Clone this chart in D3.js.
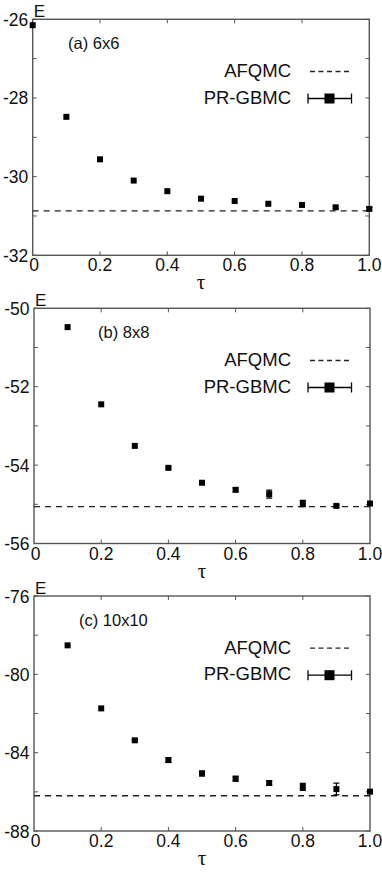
<!DOCTYPE html>
<html>
<head>
<meta charset="utf-8">
<script src="https://cdn.jsdelivr.net/npm/d3@7"></script>
<style>
  body { margin: 0; background: #fff; }
  text { font-family: "Liberation Sans", Arial, sans-serif; fill: #111; }
</style>
</head>
<body>
<script>
// data
const tauA = [0, 0.1, 0.2, 0.3, 0.4, 0.5, 0.6, 0.7, 0.8, 0.9, 1.0];
const energyA = [-26.15, -28.48, -29.56, -30.10, -30.37, -30.56, -30.62, -30.69, -30.72, -30.78, -30.82];
const errA = [0, 0, 0, 0, 0, 0, 0, 0, 0.03, 0.03, 0.04];
const afqmcA = -30.87;

const tauB = [0.1, 0.2, 0.3, 0.4, 0.5, 0.6, 0.7, 0.8, 0.9, 1.0];
const energyB = [-50.48, -52.45, -53.51, -54.07, -54.45, -54.63, -54.74, -54.98, -55.04, -54.98];
const errB = [0, 0, 0, 0.03, 0.03, 0.05, 0.1, 0.08, 0.03, 0.03];
const afqmcB = -55.06;

const tauC = [0.1, 0.2, 0.3, 0.4, 0.5, 0.6, 0.7, 0.8, 0.9, 1.0];
const energyC = [-78.52, -81.74, -83.37, -84.38, -85.06, -85.33, -85.55, -85.75, -85.86, -85.99];
const errC = [0, 0, 0.05, 0.12, 0.12, 0.12, 0.12, 0.18, 0.3, 0.05];
const afqmcC = -86.2;

const xTicks = [0, 0.2, 0.4, 0.6, 0.8, 1.0];
const xTickLabels = ['0', '0.2', '0.4', '0.6', '0.8', '1.0'];
const yTickLabelsA = [-26, -28, -30, -32];
const yTickLabelsB = [-50, -52, -54, -56];
const yTickLabelsC = [-76, -80, -84, -88];
const panelLabels = ['(a) 6x6', '(b) 8x8', '(c) 10x10'];
const legendNames = ['AFQMC', 'PR-GBMC'];

const svg = d3.select('body').append('svg')
    .attr('width', 382)
    .attr('height', 872);

const panels = [
    { tau: tauA, e: energyA, err: errA, afqmc: afqmcA, domain: [-32, -26], minorStep: 1, labels: yTickLabelsA,
      box: [32.7, 369.3, 19.3, 255.3], labelX: 68 },
    { tau: tauB, e: energyB, err: errB, afqmc: afqmcB, domain: [-56, -50], minorStep: 1, labels: yTickLabelsB,
      box: [34, 370, 308.3, 543.5], labelX: 98 },
    { tau: tauC, e: energyC, err: errC, afqmc: afqmcC, domain: [-88, -76], minorStep: 2, labels: yTickLabelsC,
      box: [34, 370, 596, 831], labelX: 79 }
];

const frameColor = '#555';
const tickLen = 4;

panels.forEach((p, i) => {
    const [x0, x1, y0, y1] = p.box;
    const x = d3.scaleLinear().domain([0, 1]).range([x0, x1]);
    const y = d3.scaleLinear().domain(p.domain).range([y1, y0]);
    const g = svg.append('g');

    // frame
    g.append('rect')
        .attr('x', x0).attr('y', y0)
        .attr('width', x1 - x0).attr('height', y1 - y0)
        .attr('fill', 'none')
        .attr('stroke', frameColor)
        .attr('stroke-width', 1.4);

    // inward ticks on all four sides
    const yMinor = d3.range(p.domain[0], p.domain[1] + 0.001, p.minorStep);
    g.selectAll('.yt').data(yMinor).enter().append('path')
        .attr('d', d => `M${x0},${y(d)}h${tickLen}M${x1},${y(d)}h${-tickLen}`)
        .attr('stroke', frameColor).attr('stroke-width', 1);
    g.selectAll('.xt').data(xTicks.slice(1, -1)).enter().append('path')
        .attr('d', d => `M${x(d)},${y1}v${-tickLen}M${x(d)},${y0}v${tickLen}`)
        .attr('stroke', frameColor).attr('stroke-width', 1);

    // tick labels
    g.selectAll('.xl').data(xTicks).enter().append('text')
        .attr('x', d => x(d) + (d === 0 ? 1.5 : 0))
        .attr('y', y1 + 16)
        .attr('text-anchor', 'middle')
        .attr('font-size', 17.5)
        .text((d, j) => xTickLabels[j]);
    g.selectAll('.yl').data(p.labels).enter().append('text')
        .attr('x', x0 - 4.5)
        .attr('y', d => y(d) + 6.5)
        .attr('text-anchor', 'end')
        .attr('font-size', 17.5)
        .text(d => d);

    // axis titles
    g.append('text')
        .attr('x', (x0 + x1) / 2)
        .attr('y', y1 + 34)
        .attr('text-anchor', 'middle')
        .attr('font-size', 21)
        .style('font-family', '"Liberation Serif", "Times New Roman", serif')
        .text('τ');
    g.append('text')
        .attr('x', x0 + 1)
        .attr('y', y0 - 2)
        .attr('font-size', 17)
        .text('E');

    // panel label
    g.append('text')
        .attr('x', p.labelX)
        .attr('y', y0 + 30)
        .attr('font-size', 16.5)
        .text(panelLabels[i]);

    // AFQMC reference line
    g.append('line')
        .attr('x1', x0).attr('x2', x1)
        .attr('y1', y(p.afqmc)).attr('y2', y(p.afqmc))
        .attr('stroke', '#222')
        .attr('stroke-width', 1.3)
        .attr('stroke-dasharray', '6,5');

    // PR-GBMC points with error bars
    const pts = p.tau.map((t, j) => ({ t: t, e: p.e[j], err: p.err[j] }));
    g.selectAll('.eb').data(pts.filter(d => d.err > 0)).enter().append('path')
        .attr('d', d => `M${x(d.t)},${y(d.e - d.err)}V${y(d.e + d.err)}` +
            `M${x(d.t) - 3},${y(d.e - d.err)}h6M${x(d.t) - 3},${y(d.e + d.err)}h6`)
        .attr('stroke', '#000').attr('stroke-width', 1.2);
    g.selectAll('.pt').data(pts).enter().append('rect')
        .attr('x', d => x(d.t) - 3)
        .attr('y', d => y(d.e) - 3)
        .attr('width', 6).attr('height', 6)
        .attr('fill', '#000');

    // legend
    const ly1 = y0 + 50.7, ly2 = y0 + 77.2;
    g.append('text')
        .attr('x', 291).attr('y', ly1 + 7)
        .attr('text-anchor', 'end')
        .attr('font-size', 18.5)
        .text(legendNames[0]);
    g.append('line')
        .attr('x1', 310).attr('x2', 349)
        .attr('y1', ly1 + 1.5).attr('y2', ly1 + 1.5)
        .attr('stroke', '#222').attr('stroke-width', 1.3)
        .attr('stroke-dasharray', '5,3.5');
    g.append('text')
        .attr('x', 291).attr('y', ly2 + 7)
        .attr('text-anchor', 'end')
        .attr('font-size', 18.5)
        .text(legendNames[1]);
    g.append('path')
        .attr('d', `M308,${ly2 + 2}H351.5M308,${ly2 - 3}v10M351.5,${ly2 - 3}v10`)
        .attr('stroke', '#000').attr('stroke-width', 1.3);
    g.append('rect')
        .attr('x', 324.5).attr('y', ly2 - 3)
        .attr('width', 10).attr('height', 10)
        .attr('fill', '#000');
});
</script>
</body>
</html>
